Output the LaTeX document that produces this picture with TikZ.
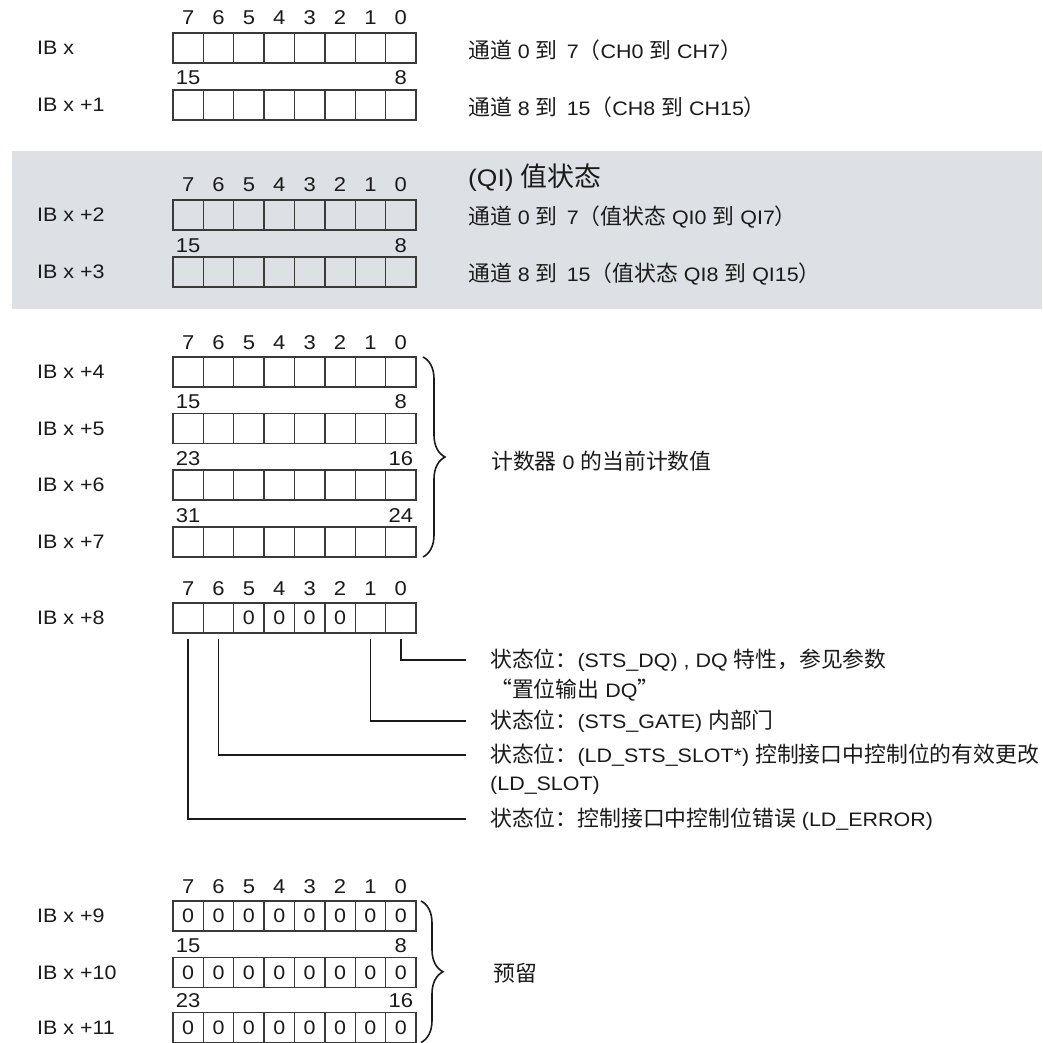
\documentclass[tikz,border=0pt]{standalone}
\usepackage{fontspec}
\setmainfont{Liberation Sans}[FakeStretch=1.1]
\newfontfamily\cjk{Noto Sans CJK SC}[Scale=1.12]
\usetikzlibrary{decorations.pathreplacing}
\newcommand\zh[1]{{\cjk #1}}
\definecolor{band}{HTML}{DDE1E5}
\definecolor{ink}{HTML}{1A1A1A}
\definecolor{boxline}{HTML}{3A3A3A}
\newcommand\bytebox[2]{\foreach \b in {0,...,7}{\node[cell] (#1-\b) at ({173+30.375*(7-\b)+15.1875},{#2+15}) {};}}
\newcommand\topnums[1]{\foreach \b in {0,...,7}{\node[bitnum] (#1n\b) at ([yshift=8pt]#1-\b.north) {\b};}}
\newcommand\innums[3]{\node[bitnum] (#1hi) at ([yshift=5pt]#1-7.north) {#2};\node[bitnum] (#1lo) at ([yshift=5pt]#1-0.north) {#3};}
\begin{document}
\begin{tikzpicture}[x=1pt,y=-1pt,
  cell/.style={draw=boxline,line width=1.3pt,minimum width=30.375pt,minimum height=30pt,inner sep=0pt,outer sep=0pt},
  bitnum/.style={anchor=base,inner sep=0pt,font=\fontsize{20}{20}\selectfont,text=ink},
  zero/.style={inner sep=0pt,font=\fontsize{19.5}{19.5}\selectfont,text=ink},
  reglabel/.style={anchor=west,inner sep=0pt,font=\fontsize{19.5}{19.5}\selectfont,text=ink},
  desc/.style={anchor=west,inner sep=0pt,font=\fontsize{19.5}{19.5}\selectfont,text=ink},
  lead/.style={line width=1.6pt,draw=ink},
  brc/.style={decorate,decoration={brace,amplitude=22pt},line width=1.6pt,draw=ink}]
\useasboundingbox (0,0) rectangle (1042,1043);
\fill[band] (12,151) rectangle (1042,309);
% registers
\bytebox{A}{33}\bytebox{B}{90}\bytebox{C}{200}\bytebox{D}{257}
\bytebox{E}{357}\bytebox{F}{413.5}\bytebox{G}{470}\bytebox{H}{527}
\bytebox{I}{603}
\bytebox{J}{901}\bytebox{K}{957.5}\bytebox{L}{1012.5}
\topnums{A}\topnums{C}\topnums{E}\topnums{I}\topnums{J}
\innums{B}{15}{8}\innums{D}{15}{8}\innums{F}{15}{8}\innums{G}{23}{16}\innums{H}{31}{24}
\innums{K}{15}{8}\innums{L}{23}{16}
\foreach \b in {2,...,5}{\node[zero] (Iz\b) at (I-\b) {0};}
\foreach \r in {J,K,L}{\foreach \b in {0,...,7}{\node[zero] (\r z\b) at (\r-\b) {0};}}
% register labels
\node[reglabel] (lA) at (37,48) {IB x};
\node[reglabel] (lB) at (37,105) {IB x +1};
\node[reglabel] (lC) at (37,215) {IB x +2};
\node[reglabel] (lD) at (37,272) {IB x +3};
\node[reglabel] (lE) at (37,372) {IB x +4};
\node[reglabel] (lF) at (37,428.5) {IB x +5};
\node[reglabel] (lG) at (37,485) {IB x +6};
\node[reglabel] (lH) at (37,542) {IB x +7};
\node[reglabel] (lI) at (37,618) {IB x +8};
\node[reglabel] (lJ) at (37,916) {IB x +9};
\node[reglabel] (lK) at (37,972.5) {IB x +10};
\node[reglabel] (lL) at (37,1027.5) {IB x +11};
% descriptions
\node[desc] (tA) at (468,50) {\zh{通道} 0 \zh{到} \,7\zh{（}CH0 \zh{到} CH7\zh{）}};
\node[desc] (tB) at (468,107) {\zh{通道} 8 \zh{到} \,15\zh{（}CH8 \zh{到} CH15\zh{）}};
\node[desc,font=\fontsize{24}{24}\selectfont] (tQ) at (468,178) {(QI) \zh{值状态}};
\node[desc] (tC) at (468,217) {\zh{通道} 0 \zh{到} \,7\zh{（值状态} QI0 \zh{到} QI7\zh{）}};
\node[desc] (tD) at (468,274) {\zh{通道} 8 \zh{到} \,15\zh{（值状态} QI8 \zh{到} QI15\zh{）}};
\node[desc] (tE) at (491,461) {\zh{计数器} 0 \zh{的当前计数值}};
\node[desc] (t7a) at (490,660) {\zh{状态位：}(STS\_DQ) , DQ \zh{特性，参见参数}};
\node[desc] (t7b) at (490,690) {\zh{“置位输出} DQ\zh{”}};
\node[desc] (t8) at (490,721) {\zh{状态位：}(STS\_GATE) \zh{内部门}};
\node[desc] (t9a) at (490,755) {\zh{状态位：}(LD\_STS\_SLOT*) \zh{控制接口中控制位的有效更改}};
\node[desc] (t9b) at (490,785) {(LD\_SLOT)};
\node[desc] (t10) at (490,819) {\zh{状态位：控制接口中控制位错误} (LD\_ERROR)};
\node[desc] (tR) at (493,973) {\zh{预留}};
% braces
\draw[brc] ([xshift=7pt]E-0.north east) -- ([xshift=7pt]H-0.south east);
\draw[brc] ([xshift=5pt]J-0.north east) -- ([xshift=5pt]L-0.south east);
% leaders
\draw[lead] ([yshift=-6pt]I-0.south) |- ([xshift=-24pt]t7a.west);
\draw[lead] ([yshift=-6pt]I-1.south) |- ([xshift=-24pt]t8.west);
\draw[lead] ([yshift=-6pt]I-6.south) |- ([xshift=-24pt]t9a.west);
\draw[lead] ([yshift=-6pt]I-7.south) |- ([xshift=-24pt]t10.west);
\end{tikzpicture}
\end{document}
